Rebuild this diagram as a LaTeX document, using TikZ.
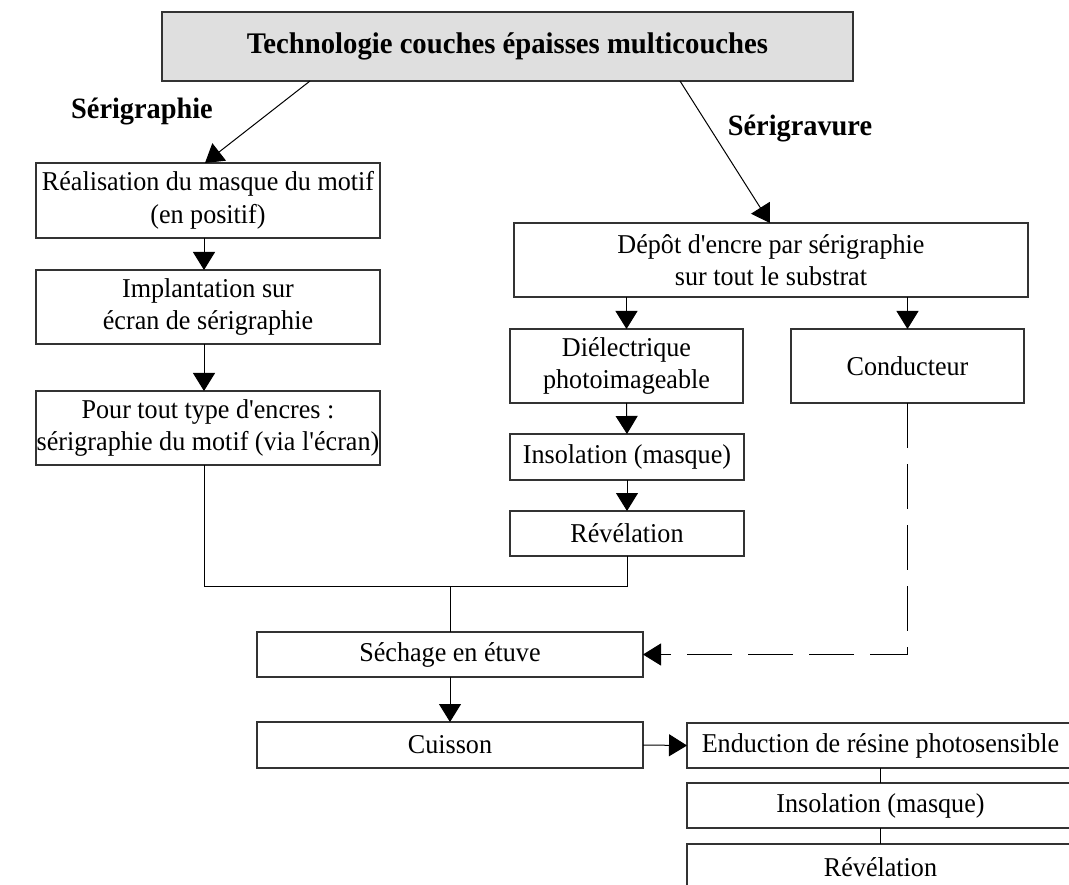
\documentclass[tikz,border=0pt]{standalone}
\usepackage{fontspec}
\setmainfont{Liberation Serif}[Ligatures=TeXOff, FakeStretch=0.96]
\usetikzlibrary{arrows.meta,calc}
\definecolor{titlegray}{HTML}{DFDFDF}
\definecolor{linegray}{HTML}{333333}
\begin{document}
\begin{tikzpicture}[x=1pt,y=-1pt,
  every node/.style={inner sep=0pt, outer sep=0pt},
  procbox/.style={draw=linegray, line width=1.1pt, fill=white, align=center,
    font=\fontsize{27.2}{32.5}\selectfont},
  titlebox/.style={draw=linegray, line width=1.1pt, fill=titlegray, align=center,
    font=\fontsize{29.9}{35}\selectfont\bfseries},
  lbl/.style={font=\fontsize{29.5}{35}\selectfont\bfseries},
  conn/.style={draw=black, line width=1pt},
  arr/.style={conn, -{Triangle[length=18pt,width=22pt]}},
  dashconn/.style={conn, dash pattern=on 45pt off 16pt, -{Triangle[length=18pt,width=22pt]}}
]
\useasboundingbox (0,0) rectangle (1069,885);
\clip (0,0) rectangle (1069,885);

% title
\node[titlebox, minimum width=691pt, minimum height=69pt] (T) at (507.5,46.5) {Technologie couches épaisses multicouches};
\node[lbl] (L1) at (142,112) {Sérigraphie};
\node[lbl] (L2) at (800,129) {Sérigravure};

% left column
\node[procbox, minimum width=344pt, minimum height=75pt] (R) at (208,200.5) {Réalisation du masque du motif\\(en positif)};
\node[procbox, minimum width=344pt, minimum height=74pt] (I) at (208,307) {Implantation sur\\écran de sérigraphie};
\node[procbox, minimum width=344pt, minimum height=74pt] (P) at (208,428) {Pour tout type d'encres :\\sérigraphie du motif (via l'écran)};

% right column
\node[procbox, minimum width=514pt, minimum height=74pt] (D) at (771,260) {Dépôt d'encre par sérigraphie\\sur tout le substrat};
\node[procbox, minimum width=233pt, minimum height=74pt] (Di) at (626.5,366) {Diélectrique\\photoimageable};
\node[procbox, minimum width=233pt, minimum height=74pt] (C) at (907.5,366) {Conducteur};
\node[procbox, minimum width=234pt, minimum height=46pt] (In) at (627,457) {Insolation (masque)};
\node[procbox, minimum width=234pt, minimum height=45pt] (Rv) at (627,533.5) {Révélation};

% bottom
\node[procbox, minimum width=386pt, minimum height=45pt] (S) at (450,654.5) {Séchage en étuve};
\node[procbox, minimum width=386pt, minimum height=46pt] (Cu) at (450,745) {Cuisson};
\node[procbox, minimum width=387pt, minimum height=45pt] (E) at (880.5,745.5) {Enduction de résine photosensible};
\node[procbox, minimum width=387pt, minimum height=45pt] (In2) at (880.5,805.5) {Insolation (masque)};
\node[procbox, minimum width=387pt, minimum height=46pt] (Rv2) at (880.5,867) {Révélation};

% connectors
\coordinate (t1) at (310,81);
\coordinate (t2) at (680,81);
\coordinate (rtop) at (205,163);
\coordinate (dtop) at (770,223);
\draw[arr] (t1) -- (rtop);
\draw[arr] (t2) -- (dtop);

\draw[arr] ([xshift=-4pt]R.south) -- ([xshift=-4pt]I.north);
\draw[arr] ([xshift=-4pt]I.south) -- ([xshift=-4pt]P.north);

\draw[arr] (D.south -| Di) -- (Di.north);
\draw[arr] (D.south -| C) -- (C.north);
\draw[arr] (Di.south) -- (In.north);
\draw[arr] (In.south) -- (Rv.north);

\coordinate (J) at (450,586);
\draw[conn] ([xshift=-4pt]P.south) |- (J);
\draw[conn] (Rv.south) |- (J);
\draw[conn] (J) -- (S.north);

\coordinate (K) at (907.5,654.5);
\draw[dashconn] (C.south) -- (K) -- (S.east);

\draw[arr] (S.south) -- (Cu.north);
\draw[arr] (Cu.east) -- (E.west);
\draw[conn] (E.south) -- (In2.north);
\draw[conn] (In2.south) -- (Rv2.north);
\end{tikzpicture}
\end{document}
